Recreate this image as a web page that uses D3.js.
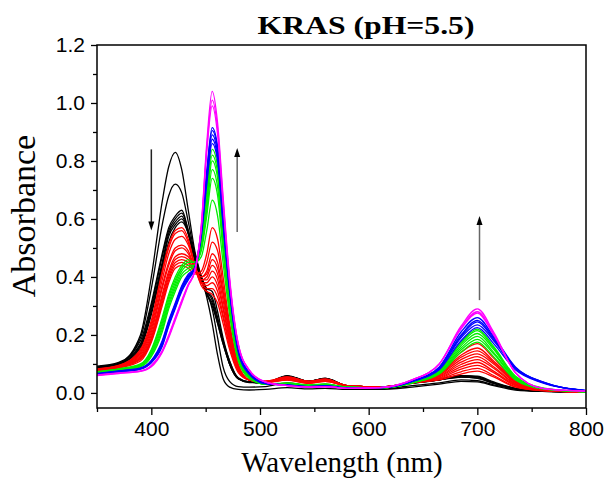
<!DOCTYPE html>
<html>
<head>
<meta charset="utf-8">
<script src="https://cdn.jsdelivr.net/npm/d3@7"></script>
<style>
  body { margin: 0; background: #fff; }
  svg { display: block; }
</style>
</head>
<body>
<svg id="chart" width="609" height="481"></svg>
<script>
// Wavelength grid (nm) the spectra were read at
const wavelengths = [350, 370, 390, 400, 410, 416, 422, 428, 434, 440, 446, 451, 456, 461, 466, 472,
                     480, 490, 505, 525, 545, 560, 580, 610, 640, 665, 685, 700, 715, 735, 760, 800];

// Absorbance spectra, grouped by the colour used in the titration plot
const blackSpectra = [
  [0.085, 0.10, 0.20, 0.40, 0.66, 0.78, 0.83, 0.77, 0.63, 0.49, 0.40, 0.33, 0.24, 0.13, 0.05, 0.02, 0.012, 0.01, 0.012, 0.018, 0.014, 0.016, 0.012, 0.012, 0.02, 0.03, 0.04, 0.038, 0.025, 0.01, 0.005, 0.003],
  [0.09, 0.10, 0.19, 0.36, 0.58, 0.68, 0.72, 0.69, 0.59, 0.48, 0.40, 0.35, 0.29, 0.19, 0.09, 0.04, 0.022, 0.02, 0.022, 0.035, 0.025, 0.03, 0.018, 0.015, 0.025, 0.035, 0.045, 0.042, 0.028, 0.012, 0.005, 0.003],
  [0.092, 0.105, 0.18, 0.31, 0.48, 0.57, 0.61, 0.63, 0.56, 0.47, 0.39, 0.34, 0.31, 0.24, 0.17, 0.10, 0.05, 0.038, 0.035, 0.06, 0.04, 0.05, 0.025, 0.02, 0.035, 0.048, 0.06, 0.055, 0.035, 0.015, 0.006, 0.003],
  [0.09, 0.103, 0.17, 0.30, 0.47, 0.56, 0.60, 0.62, 0.56, 0.47, 0.39, 0.34, 0.30, 0.24, 0.17, 0.10, 0.048, 0.036, 0.035, 0.058, 0.04, 0.05, 0.025, 0.02, 0.035, 0.045, 0.055, 0.052, 0.033, 0.015, 0.006, 0.003],
  [0.088, 0.10, 0.165, 0.29, 0.45, 0.55, 0.59, 0.61, 0.55, 0.46, 0.39, 0.35, 0.32, 0.25, 0.18, 0.10, 0.05, 0.037, 0.035, 0.058, 0.04, 0.05, 0.025, 0.02, 0.035, 0.045, 0.058, 0.055, 0.035, 0.015, 0.006, 0.003],
  [0.087, 0.098, 0.16, 0.28, 0.44, 0.54, 0.58, 0.60, 0.55, 0.46, 0.39, 0.35, 0.33, 0.26, 0.18, 0.11, 0.05, 0.037, 0.035, 0.056, 0.04, 0.048, 0.025, 0.02, 0.033, 0.045, 0.055, 0.05, 0.033, 0.015, 0.006, 0.003],
  [0.086, 0.097, 0.155, 0.27, 0.43, 0.52, 0.57, 0.59, 0.55, 0.46, 0.40, 0.36, 0.35, 0.28, 0.19, 0.11, 0.052, 0.038, 0.035, 0.056, 0.04, 0.048, 0.025, 0.02, 0.033, 0.045, 0.06, 0.058, 0.038, 0.016, 0.006, 0.003]
];

const redSpectra = [
  [0.083, 0.095, 0.15, 0.25, 0.42, 0.51, 0.56, 0.57, 0.53, 0.44, 0.37, 0.35, 0.34, 0.31, 0.24, 0.15, 0.07, 0.045, 0.04, 0.055, 0.04, 0.048, 0.025, 0.02, 0.035, 0.045, 0.065, 0.075, 0.055, 0.02, 0.008, 0.003],
  [0.082, 0.094, 0.145, 0.24, 0.41, 0.50, 0.55, 0.56, 0.52, 0.44, 0.38, 0.36, 0.36, 0.33, 0.26, 0.16, 0.075, 0.045, 0.04, 0.055, 0.04, 0.047, 0.025, 0.02, 0.035, 0.048, 0.073, 0.085, 0.06, 0.022, 0.008, 0.003],
  [0.081, 0.093, 0.14, 0.23, 0.39, 0.48, 0.53, 0.54, 0.51, 0.44, 0.38, 0.37, 0.38, 0.35, 0.27, 0.17, 0.08, 0.045, 0.04, 0.052, 0.04, 0.046, 0.025, 0.02, 0.035, 0.05, 0.082, 0.095, 0.07, 0.025, 0.009, 0.003],
  [0.08, 0.092, 0.135, 0.22, 0.37, 0.45, 0.50, 0.51, 0.49, 0.43, 0.38, 0.38, 0.40, 0.37, 0.29, 0.18, 0.08, 0.045, 0.04, 0.05, 0.038, 0.045, 0.025, 0.02, 0.035, 0.052, 0.09, 0.105, 0.075, 0.028, 0.01, 0.003],
  [0.08, 0.09, 0.13, 0.21, 0.36, 0.44, 0.49, 0.50, 0.48, 0.43, 0.39, 0.39, 0.42, 0.39, 0.30, 0.19, 0.085, 0.045, 0.04, 0.05, 0.038, 0.045, 0.025, 0.02, 0.035, 0.055, 0.098, 0.115, 0.085, 0.03, 0.01, 0.003],
  [0.079, 0.09, 0.125, 0.20, 0.34, 0.42, 0.47, 0.48, 0.47, 0.43, 0.39, 0.40, 0.44, 0.41, 0.32, 0.20, 0.085, 0.045, 0.038, 0.048, 0.036, 0.044, 0.025, 0.02, 0.035, 0.057, 0.106, 0.125, 0.09, 0.032, 0.01, 0.003],
  [0.078, 0.089, 0.12, 0.19, 0.33, 0.41, 0.46, 0.47, 0.46, 0.42, 0.40, 0.41, 0.46, 0.43, 0.34, 0.21, 0.09, 0.045, 0.038, 0.047, 0.036, 0.043, 0.025, 0.02, 0.035, 0.06, 0.115, 0.135, 0.10, 0.035, 0.011, 0.003],
  [0.078, 0.088, 0.12, 0.185, 0.32, 0.40, 0.45, 0.46, 0.45, 0.42, 0.40, 0.42, 0.48, 0.45, 0.35, 0.22, 0.09, 0.045, 0.037, 0.046, 0.035, 0.042, 0.024, 0.02, 0.035, 0.062, 0.123, 0.145, 0.105, 0.037, 0.012, 0.003],
  [0.077, 0.087, 0.115, 0.18, 0.31, 0.39, 0.44, 0.45, 0.44, 0.42, 0.41, 0.45, 0.52, 0.49, 0.37, 0.23, 0.095, 0.045, 0.036, 0.045, 0.034, 0.04, 0.024, 0.02, 0.035, 0.064, 0.13, 0.155, 0.11, 0.04, 0.012, 0.003],
  [0.076, 0.086, 0.11, 0.175, 0.30, 0.38, 0.43, 0.44, 0.43, 0.41, 0.42, 0.48, 0.57, 0.53, 0.40, 0.24, 0.10, 0.045, 0.035, 0.044, 0.033, 0.04, 0.024, 0.02, 0.035, 0.066, 0.14, 0.17, 0.12, 0.042, 0.013, 0.003]
];

const greenSpectra = [
  [0.073, 0.083, 0.10, 0.15, 0.26, 0.34, 0.40, 0.44, 0.46, 0.45, 0.47, 0.56, 0.665, 0.61, 0.45, 0.27, 0.11, 0.05, 0.03, 0.035, 0.028, 0.03, 0.02, 0.018, 0.035, 0.065, 0.14, 0.175, 0.125, 0.045, 0.014, 0.004],
  [0.072, 0.082, 0.098, 0.145, 0.25, 0.33, 0.39, 0.43, 0.45, 0.45, 0.49, 0.61, 0.74, 0.68, 0.49, 0.29, 0.12, 0.055, 0.03, 0.033, 0.027, 0.03, 0.02, 0.018, 0.035, 0.068, 0.148, 0.185, 0.135, 0.048, 0.015, 0.004],
  [0.072, 0.081, 0.096, 0.14, 0.24, 0.32, 0.38, 0.43, 0.45, 0.45, 0.50, 0.63, 0.77, 0.71, 0.51, 0.30, 0.12, 0.055, 0.03, 0.032, 0.026, 0.028, 0.02, 0.018, 0.035, 0.07, 0.155, 0.195, 0.14, 0.05, 0.015, 0.004],
  [0.071, 0.08, 0.094, 0.135, 0.23, 0.31, 0.37, 0.42, 0.44, 0.44, 0.51, 0.65, 0.80, 0.74, 0.53, 0.31, 0.125, 0.055, 0.03, 0.031, 0.025, 0.027, 0.02, 0.018, 0.035, 0.073, 0.163, 0.205, 0.15, 0.052, 0.016, 0.004],
  [0.07, 0.079, 0.092, 0.13, 0.22, 0.30, 0.36, 0.41, 0.43, 0.44, 0.52, 0.67, 0.82, 0.76, 0.55, 0.32, 0.13, 0.06, 0.03, 0.03, 0.024, 0.026, 0.02, 0.018, 0.035, 0.076, 0.17, 0.215, 0.155, 0.055, 0.016, 0.004],
  [0.07, 0.078, 0.09, 0.125, 0.21, 0.29, 0.35, 0.40, 0.42, 0.44, 0.53, 0.69, 0.84, 0.78, 0.56, 0.33, 0.13, 0.06, 0.03, 0.03, 0.024, 0.026, 0.02, 0.018, 0.035, 0.078, 0.175, 0.22, 0.16, 0.058, 0.017, 0.004]
];

const blueSpectra = [
  [0.067, 0.076, 0.086, 0.112, 0.18, 0.25, 0.31, 0.37, 0.41, 0.43, 0.54, 0.72, 0.86, 0.80, 0.58, 0.35, 0.14, 0.065, 0.032, 0.028, 0.022, 0.024, 0.018, 0.018, 0.04, 0.08, 0.18, 0.225, 0.17, 0.08, 0.035, 0.008],
  [0.066, 0.075, 0.085, 0.11, 0.175, 0.245, 0.305, 0.365, 0.405, 0.43, 0.55, 0.73, 0.875, 0.81, 0.59, 0.355, 0.145, 0.066, 0.032, 0.027, 0.022, 0.024, 0.018, 0.018, 0.04, 0.083, 0.19, 0.235, 0.18, 0.085, 0.036, 0.008],
  [0.065, 0.074, 0.084, 0.108, 0.17, 0.24, 0.30, 0.36, 0.40, 0.43, 0.555, 0.745, 0.89, 0.825, 0.60, 0.36, 0.15, 0.068, 0.033, 0.027, 0.021, 0.023, 0.017, 0.018, 0.04, 0.086, 0.195, 0.245, 0.185, 0.085, 0.037, 0.008],
  [0.064, 0.073, 0.083, 0.106, 0.165, 0.235, 0.295, 0.355, 0.395, 0.43, 0.56, 0.755, 0.905, 0.84, 0.61, 0.365, 0.15, 0.07, 0.034, 0.027, 0.021, 0.023, 0.017, 0.018, 0.04, 0.088, 0.20, 0.25, 0.19, 0.088, 0.038, 0.008],
  [0.063, 0.072, 0.082, 0.104, 0.16, 0.23, 0.29, 0.35, 0.39, 0.43, 0.565, 0.765, 0.915, 0.85, 0.62, 0.37, 0.155, 0.072, 0.035, 0.026, 0.021, 0.023, 0.017, 0.018, 0.042, 0.09, 0.21, 0.26, 0.195, 0.09, 0.038, 0.008]
];

const magentaSpectra = [
  [0.062, 0.069, 0.076, 0.095, 0.145, 0.20, 0.26, 0.32, 0.375, 0.42, 0.57, 0.83, 0.99, 0.89, 0.65, 0.385, 0.165, 0.078, 0.037, 0.025, 0.02, 0.022, 0.016, 0.018, 0.045, 0.10, 0.22, 0.275, 0.20, 0.07, 0.016, 0.006],
  [0.061, 0.068, 0.075, 0.093, 0.142, 0.195, 0.255, 0.315, 0.372, 0.42, 0.575, 0.845, 1.01, 0.91, 0.665, 0.39, 0.168, 0.079, 0.037, 0.025, 0.02, 0.022, 0.016, 0.018, 0.045, 0.10, 0.225, 0.28, 0.205, 0.07, 0.016, 0.006],
  [0.06, 0.067, 0.074, 0.09, 0.14, 0.19, 0.25, 0.31, 0.37, 0.42, 0.58, 0.86, 1.04, 0.93, 0.68, 0.40, 0.17, 0.08, 0.038, 0.025, 0.02, 0.022, 0.016, 0.018, 0.045, 0.10, 0.23, 0.29, 0.21, 0.07, 0.016, 0.006]
];

// Axis ticks
const xMajorTicks = [400, 500, 600, 700, 800];
const xMinorTicks = [350, 450, 550, 650, 750];
const yMajorTicks = [0.0, 0.2, 0.4, 0.6, 0.8, 1.0, 1.2];
const yMinorTicks = [0.1, 0.3, 0.5, 0.7, 0.9, 1.1];

// Arrows showing the direction of change (wavelength, from, to)
const arrows = [
  { w: 400, from: 0.84, to: 0.56, color: "#222" },
  { w: 479, from: 0.555, to: 0.845, color: "#666" },
  { w: 702, from: 0.32, to: 0.61, color: "#666" }
];

const svg = d3.select("#chart");
const margin = { left: 97, right: 23, top: 45, bottom: 73 };
const W = 609, H = 481;

const x = d3.scaleLinear().domain([350, 800]).range([margin.left, W - margin.right]);
const y = d3.scaleLinear().domain([-0.052, 1.2]).range([H - margin.bottom, margin.top]);

const groups = [
  { color: "#000000", data: blackSpectra },
  { color: "#ff0000", data: redSpectra },
  { color: "#00ee00", data: greenSpectra },
  { color: "#0000ff", data: blueSpectra },
  { color: "#ff00ff", data: magentaSpectra }
];

const line = d3.line()
  .x((d, i) => x(wavelengths[i]))
  .y(d => y(d))
  .curve(d3.curveMonotoneX);

svg.append("defs").append("clipPath").attr("id", "clip")
  .append("rect")
  .attr("x", margin.left).attr("y", margin.top)
  .attr("width", W - margin.left - margin.right)
  .attr("height", H - margin.top - margin.bottom);

const plot = svg.append("g").attr("clip-path", "url(#clip)");

groups.forEach(g => {
  plot.append("g")
    .selectAll("path")
    .data(g.data)
    .join("path")
    .attr("d", line)
    .attr("fill", "none")
    .attr("stroke", g.color)
    .attr("stroke-width", 1.3);
});

// arrows
const arrowG = svg.append("g");
arrows.forEach(a => {
  const x0 = x(a.w), y0 = y(a.from), y1 = y(a.to);
  const dir = y1 > y0 ? 1 : -1;
  arrowG.append("line")
    .attr("x1", x0).attr("x2", x0)
    .attr("y1", y0).attr("y2", y1 - dir * 8)
    .attr("stroke", a.color)
    .attr("stroke-width", 1.5);
  arrowG.append("path")
    .attr("d", `M${x0},${y1} L${x0 - 3},${y1 - dir * 9} L${x0 + 3},${y1 - dir * 9} Z`)
    .attr("fill", "#000");
});

// axes
const tickFont = "'Liberation Sans', Arial, sans-serif";

svg.append("g")
  .attr("transform", `translate(0,${H - margin.bottom})`)
  .call(d3.axisBottom(x).tickValues(xMajorTicks).tickFormat(d3.format("d")).tickSize(7).tickPadding(6));
svg.append("g")
  .attr("transform", `translate(0,${H - margin.bottom})`)
  .call(d3.axisBottom(x).tickValues(xMinorTicks).tickFormat("").tickSize(4));

svg.append("g")
  .attr("transform", `translate(${margin.left},0)`)
  .call(d3.axisLeft(y).tickValues(yMajorTicks).tickFormat(d3.format(".1f")).tickSize(6).tickPadding(6));
svg.append("g")
  .attr("transform", `translate(${margin.left},0)`)
  .call(d3.axisLeft(y).tickValues(yMinorTicks).tickFormat("").tickSize(4));

svg.selectAll(".domain").remove();
svg.selectAll(".tick line").attr("stroke", "#000").attr("stroke-width", 1.3);
svg.selectAll(".tick text")
  .attr("font-family", tickFont)
  .attr("font-size", 21)
  .attr("fill", "#000");

// frame
svg.append("rect")
  .attr("x", margin.left).attr("y", margin.top)
  .attr("width", W - margin.left - margin.right)
  .attr("height", H - margin.top - margin.bottom)
  .attr("fill", "none")
  .attr("stroke", "#000")
  .attr("stroke-width", 1.5);

// titles
const serif = "'Liberation Serif', 'Times New Roman', serif";

svg.append("text")
  .attr("x", 366).attr("y", 34)
  .attr("text-anchor", "middle")
  .attr("font-family", serif)
  .attr("font-weight", "bold")
  .attr("font-size", 26)
  .attr("textLength", 217)
  .attr("lengthAdjust", "spacingAndGlyphs")
  .text("KRAS (pH=5.5)");

svg.append("text")
  .attr("x", 342).attr("y", 472)
  .attr("text-anchor", "middle")
  .attr("font-family", serif)
  .attr("font-size", 29)
  .text("Wavelength (nm)");

svg.append("text")
  .attr("transform", "translate(35,216) rotate(-90)")
  .attr("text-anchor", "middle")
  .attr("font-family", serif)
  .attr("font-size", 34)
  .text("Absorbance");
</script>
</body>
</html>
